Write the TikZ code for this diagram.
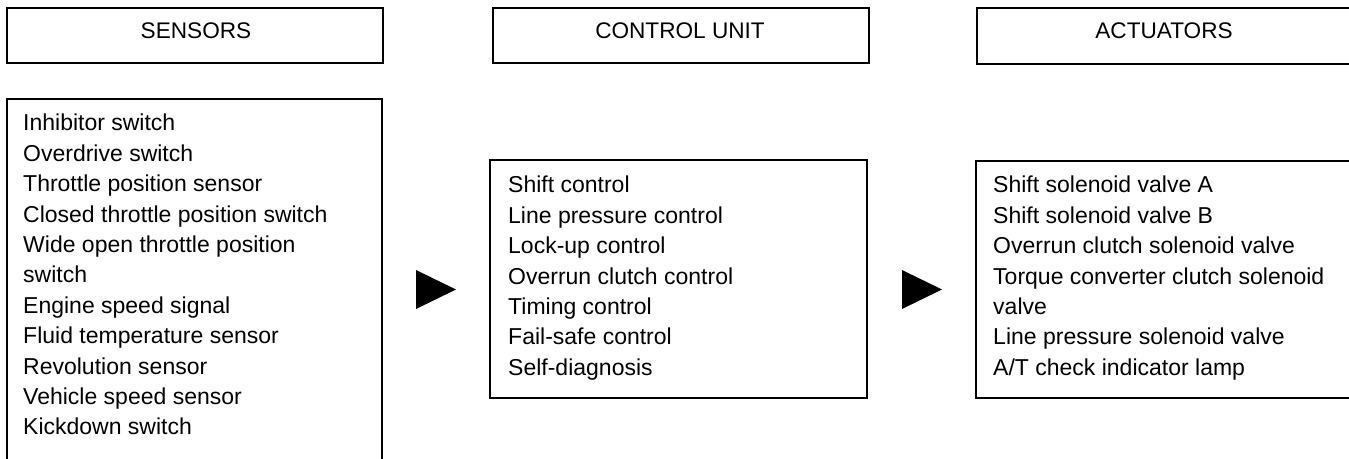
\documentclass[tikz,border=0pt]{standalone}
\usepackage{fontspec}
\setmainfont{Liberation Sans}
\begin{document}
\begin{tikzpicture}[x=1pt,y=-1pt,
  boxline/.style={draw=black,line width=1.3pt},
  headtext/.style={font=\fontsize{22.6}{26}\selectfont,inner sep=0pt,anchor=center},
  listtext/.style={font=\fontsize{23}{30.4}\selectfont,inner sep=0pt,align=left,anchor=north west},
  pointer/.style={fill=black}]
\useasboundingbox (0,0) rectangle (1349,458);
\clip (0,0) rectangle (1349,458);
% header boxes
\draw[boxline] (7,8) rectangle (383,63);
\node[headtext] (hsens) at (196,31) {SENSORS};
\draw[boxline] (493,8) rectangle (869,63);
\node[headtext] (hctrl) at (680,31) {CONTROL UNIT};
\draw[boxline] (977,8) rectangle (1365,64);
\node[headtext] (hact) at (1164,31) {ACTUATORS};
% list boxes
\draw[boxline] (7,99) rectangle (382,480);
\node[listtext] (lsens) at (23,114) {Inhibitor switch\\Overdrive switch\\Throttle position sensor\\Closed throttle position switch\\Wide open throttle position\\switch\\Engine speed signal\\Fluid temperature sensor\\Revolution sensor\\Vehicle speed sensor\\Kickdown switch};
\draw[boxline] (490,160) rectangle (867,398);
\node[listtext] (lctrl) at (508,176) {Shift control\\Line pressure control\\Lock-up control\\Overrun clutch control\\Timing control\\Fail-safe control\\Self-diagnosis};
\draw[boxline] (976,161) rectangle (1365,398);
\node[listtext] (lact) at (993,176) {Shift solenoid valve A\\Shift solenoid valve B\\Overrun clutch solenoid valve\\Torque converter clutch solenoid\\valve\\Line pressure solenoid valve\\A/T check indicator lamp};
% arrows
\fill[pointer] (416,270) -- (456,289.5) -- (416,309) -- cycle;
\fill[pointer] (902,270) -- (942,289.5) -- (902,309) -- cycle;
\end{tikzpicture}
\end{document}
